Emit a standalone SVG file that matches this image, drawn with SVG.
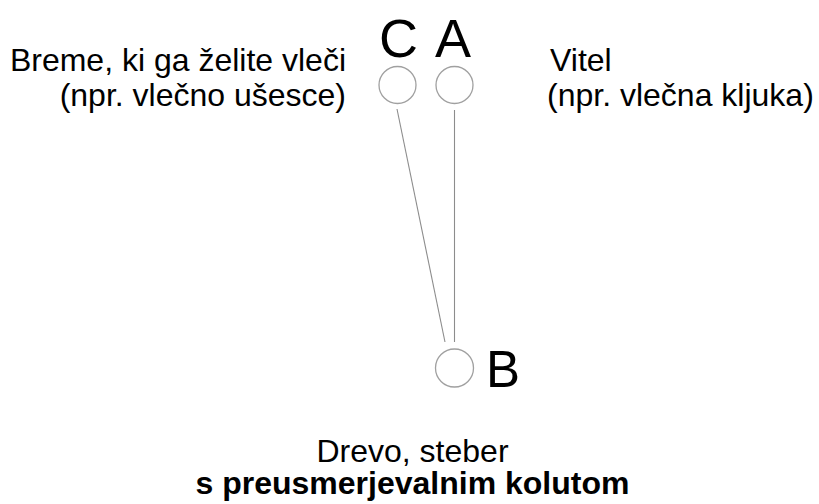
<svg xmlns="http://www.w3.org/2000/svg" width="819" height="504" viewBox="0 0 819 504">
<style>
  .lbl { font-family: "Liberation Sans", Arial, sans-serif; font-size: 32px; fill: #000; }
  .big { font-family: "Liberation Sans", Arial, sans-serif; font-size: 54px; fill: #000; }
  .ring { fill: #fff; stroke: #a0a0a0; stroke-width: 1.3; }
  .rope { stroke: #8c8c8c; stroke-width: 1.1; fill: none; }
</style>
<rect width="819" height="504" fill="#fff"/>
<g id="connectors">
  <line class="rope" x1="397" y1="109" x2="445" y2="342"/>
  <line class="rope" x1="454.5" y1="110" x2="454.5" y2="342"/>
</g>
<g id="node-C">
  <circle class="ring" cx="397.5" cy="85" r="18.5"/>
  <text class="big" x="379" y="57">C</text>
</g>
<g id="node-A">
  <circle class="ring" cx="454.5" cy="85" r="18.5"/>
  <text class="big" x="435" y="57">A</text>
</g>
<g id="node-B">
  <circle class="ring" cx="454.5" cy="368" r="19"/>
  <text class="big" x="486" y="387" style="font-size:51px">B</text>
</g>
<g id="label-load">
  <text class="lbl" x="346" y="71" text-anchor="end">Breme, ki ga želite vleči</text>
  <text class="lbl" x="346" y="106" text-anchor="end">(npr. vlečno ušesce)</text>
</g>
<g id="label-winch">
  <text class="lbl" x="550" y="71">Vitel</text>
  <text class="lbl" x="547" y="106">(npr. vlečna kljuka)</text>
</g>
<g id="label-anchor">
  <text class="lbl" x="412.5" y="462" text-anchor="middle">Drevo, steber</text>
  <text class="lbl" x="412.5" y="494" text-anchor="middle" font-weight="bold">s preusmerjevalnim kolutom</text>
</g>
</svg>
